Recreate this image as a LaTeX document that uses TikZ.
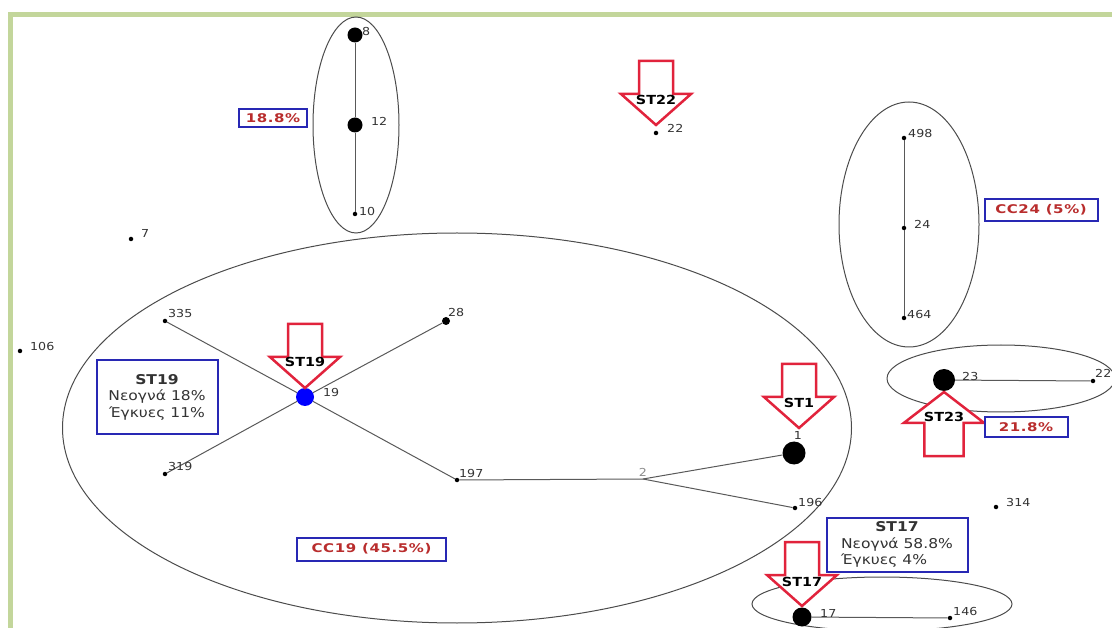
\documentclass[tikz,border=0pt]{standalone}
\usepackage{fontspec}
\setmainfont{DejaVu Sans}[FakeStretch=1.15]
\newfontfamily\pctfont{DejaVu Sans}[FakeStretch=1.25, LetterSpace=5]
\usetikzlibrary{positioning}

\definecolor{framegreen}{RGB}{195,214,155}
\definecolor{boxblue}{RGB}{40,40,180}
\definecolor{arrowred}{RGB}{225,35,60}
\definecolor{pctred}{RGB}{185,45,45}

\tikzset{
  framebar/.style={draw=framegreen, line width=5pt},
  cluster/.style={draw=black!70, line width=1pt},
  link/.style={draw=black!65, line width=1pt},
  smalldot/.style={circle, fill=black, inner sep=0pt, minimum size=4.5pt},
  middot/.style={circle, fill=black, inner sep=0pt, minimum size=8pt},
  bigdot/.style={circle, fill=black, inner sep=0pt, minimum size=16pt},
  numlabel/.style={font=\fontsize{11}{13}\selectfont, text=black!80, inner sep=0pt, anchor=west},
  stlabel/.style={font=\fontsize{12.5}{14}\selectfont\bfseries, inner sep=0pt},
  infobox/.style={draw=boxblue, line width=2pt, fill=white, align=center,
    font=\fontsize{13.5}{16.5}\selectfont, text=black!80},
  pctbox/.style={draw=boxblue, line width=2pt, fill=white, text=pctred,
    font=\pctfont\fontsize{12}{14}\selectfont\bfseries, inner sep=0pt},
  starrow/.pic={
    \filldraw[draw=arrowred, fill=white, line width=2.5pt, line join=miter]
      (0,0) -- (-35,-31) -- (-17,-31) -- (-17,-64) -- (17,-64) -- (17,-31) -- (35,-31) -- cycle;
  }
}

\begin{document}
\begin{tikzpicture}[x=1pt, y=-1pt]
  \useasboundingbox (0,0) rectangle (1112,628);
  % frame
  \draw[framebar] (10.5,628) -- (10.5,14.5) -- (1112,14.5);

  % clonal complexes
  \draw[cluster] (356,125) ellipse [x radius=43pt, y radius=108pt];
  \draw[cluster] (909,224.5) ellipse [x radius=70pt, y radius=122.5pt];
  \draw[cluster] (457,428) ellipse [x radius=394.5pt, y radius=195pt];
  \draw[cluster] (1001,378.5) ellipse [x radius=114pt, y radius=33.5pt];
  \draw[cluster] (882,604) ellipse [x radius=130pt, y radius=27pt];

  % sequence types
  \node[bigdot, minimum size=15pt] (n8) at (355,35) {};
  \node[bigdot, minimum size=15pt] (n12) at (355,125) {};
  \node[smalldot] (n10) at (355,214) {};
  \node[smalldot] (n7) at (131,239) {};
  \node[smalldot] (n106) at (20,351) {};
  \node[smalldot] (n22a) at (656,133) {};
  \node[smalldot] (n498) at (904,138) {};
  \node[smalldot] (n24) at (904,228) {};
  \node[smalldot] (n464) at (904,318) {};
  \node[smalldot] (n335) at (165,321) {};
  \node[middot] (n28) at (446,321) {};
  \node[circle, fill=blue, inner sep=0pt, minimum size=18pt] (n19) at (305,397) {};
  \node[smalldot] (n319) at (165,474) {};
  \node[smalldot] (n197) at (457,480) {};
  \coordinate (n2) at (643,479);
  \node[bigdot, minimum size=23pt] (n1) at (794,453) {};
  \node[smalldot] (n196) at (795,508) {};
  \node[bigdot, minimum size=22pt] (n23) at (944,380) {};
  \node[smalldot] (n22b) at (1093,381) {};
  \node[smalldot] (n314) at (996,507) {};
  \node[bigdot, minimum size=19pt] (n17) at (802,617) {};
  \node[smalldot] (n146) at (950,618) {};

  % links
  \draw[link] (n8) -- (n12) -- (n10);
  \draw[link] (n498) -- (n24) -- (n464);
  \draw[link] (n335) -- (n19) -- (n197);
  \draw[link] (n28) -- (n19) -- (n319);
  \draw[link] (n197) -- (n2) -- (n1);
  \draw[link] (n2) -- (n196);
  \draw[link] (n23) -- (n22b);
  \draw[link] (n17) -- (n146);

  % ST markers
  \pic at (656,125) {starrow};
  \pic at (305,388) {starrow};
  \pic at (799,428) {starrow};
  \pic at (802,606) {starrow};
  \pic[rotate=180, xscale=1.15] at (944,392) {starrow};
  \node[stlabel] (st22) at (656,100) {ST22};
  \node[stlabel] (st19) at (305,362) {ST19};
  \node[stlabel] (st1) at (799,403) {ST1};
  \node[stlabel] (st17) at (802,582) {ST17};
  \node[stlabel] (st23) at (944,417) {ST23};

  % ST numbers
  \node[numlabel] (l8) at (362,31) {8};
  \node[numlabel] (l12) at (371,121) {12};
  \node[numlabel] (l10) at (359,211) {10};
  \node[numlabel] (l7) at (141,233) {7};
  \node[numlabel] (l106) at (30,346) {106};
  \node[numlabel] (l22a) at (667,128) {22};
  \node[numlabel] (l498) at (908,133) {498};
  \node[numlabel] (l24) at (914,224) {24};
  \node[numlabel] (l464) at (907,314) {464};
  \node[numlabel] (l335) at (168,313) {335};
  \node[numlabel] (l28) at (448,312) {28};
  \node[numlabel] (l19) at (323,392) {19};
  \node[numlabel] (l319) at (168,466) {319};
  \node[numlabel] (l197) at (459,473) {197};
  \node[numlabel, text=black!45, anchor=center] (l2) at (643,472) {2};
  \node[numlabel, anchor=center] (l1) at (798,435) {1};
  \node[numlabel] (l196) at (798,502) {196};
  \node[numlabel] (l23) at (962,376) {23};
  \node[numlabel] (l22b) at (1095,373) {22};
  \node[numlabel] (l314) at (1006,502) {314};
  \node[numlabel] (l17) at (820,613) {17};
  \node[numlabel] (l146) at (953,611) {146};

  % info boxes
  \node[infobox, minimum width=121pt, minimum height=74pt] (st19info) at (157,397)
    {\textbf{ST19}\\Νεογνά 18\%\\Έγκυες 11\%};
  \node[infobox, minimum width=141pt, minimum height=54pt, inner sep=1pt] (st17info) at (897,545)
    {\begin{tabular}{@{}l@{}}\multicolumn{1}{c}{\textbf{ST17}}\\Νεογνά 58.8\%\\Έγκυες 4\%\end{tabular}};
  \node[pctbox, minimum width=68pt, minimum height=18pt] (pct10) at (273,118) {18.8\%};
  \node[pctbox, minimum width=113pt, minimum height=22pt] (cc24) at (1041,210) {CC24 (5\%)};
  \node[pctbox, minimum width=149pt, minimum height=23pt] (cc19) at (371.5,549) {CC19 (45.5\%)};
  \node[pctbox, minimum width=83pt, minimum height=20pt] (pct23) at (1026,427) {21.8\%};
\end{tikzpicture}
\end{document}
